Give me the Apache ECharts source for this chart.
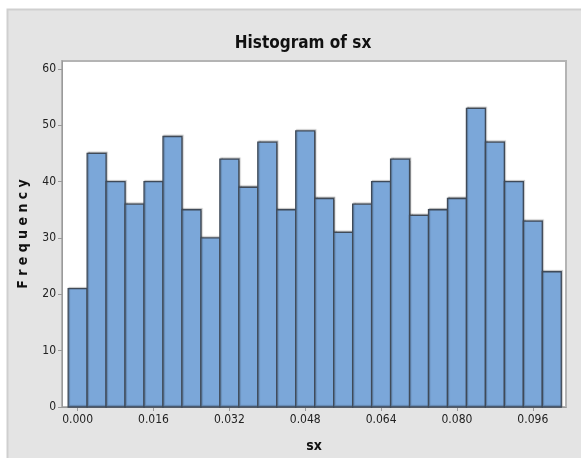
<!DOCTYPE html>
<html>
<head>
<meta charset="utf-8">
<script src="https://cdn.jsdelivr.net/npm/echarts@6/dist/echarts.min.js"></script>
<style>html,body{margin:0;padding:0;background:#fff;}#c{width:581px;height:458px;}</style>
</head>
<body>
<div id="c"></div>
<script>
var binCenters = [0.000,0.004,0.008,0.012,0.016,0.020,0.024,0.028,0.032,0.036,0.040,0.044,0.048,0.052,0.056,0.060,0.064,0.068,0.072,0.076,0.080,0.084,0.088,0.092,0.096,0.100];
var frequencies = [21,45,40,36,40,48,35,30,44,39,47,35,49,37,31,36,40,44,34,35,37,53,47,40,33,24];
var binWidth = 0.004;
var xTicks = [0.000,0.016,0.032,0.048,0.064,0.080,0.096];
var yTicks = [0,10,20,30,40,50,60];

var data = binCenters.map(function(c,i){return [c, frequencies[i]];});
var FONT = "'Liberation Sans Narrow','DejaVu Sans Condensed','Liberation Sans',sans-serif";
var chart = echarts.init(document.getElementById('c'), null, {renderer:'canvas'});
chart.setOption({
  animation:false,
  backgroundColor:'#ffffff',
  graphic:[{
    type:'rect', z:-10, silent:true,
    shape:{x:7.5,y:9.5,width:580,height:460},
    style:{fill:'#e4e4e4',stroke:'#cfcfcf',lineWidth:2}
  }],
  title:{
    text:'Histogram of sx', left:298, top:30, textAlign:'center',
    textStyle:{fontFamily:FONT,fontSize:17,fontWeight:'bold',color:'#111'}
  },
  grid:{left:62,top:61,right:15,bottom:51,show:true,backgroundColor:'#fff',borderColor:'#b4b4b4',borderWidth:2,containLabel:false},
  xAxis:{
    type:'value', min:-0.0033, max:0.1030,
    name:'sx', nameLocation:'middle', nameGap:32,
    nameTextStyle:{fontFamily:FONT,fontSize:14,fontWeight:'bold',color:'#111'},
    axisLine:{show:true,onZero:false,lineStyle:{color:'#9a9a9a',width:1}},
    axisTick:{show:true,length:4,lineStyle:{color:'#9a9a9a'},customValues:xTicks},
    axisLabel:{customValues:xTicks,margin:7,fontFamily:FONT,fontSize:12,color:'#222',
      formatter:function(v){return v.toFixed(3);}},
    splitLine:{show:false}
  },
  yAxis:{
    type:'value', min:0, max:61.4,
    name:'F r e q u e n c y', nameLocation:'middle', nameGap:32,
    nameTextStyle:{fontFamily:FONT,fontSize:14,fontWeight:'bold',color:'#111'},
    axisLine:{show:true,onZero:false,lineStyle:{color:'#9a9a9a',width:1}},
    axisTick:{show:true,length:4,lineStyle:{color:'#9a9a9a'},customValues:yTicks},
    axisLabel:{customValues:yTicks,margin:6,fontFamily:FONT,fontSize:12,color:'#222'},
    splitLine:{show:false}
  },
  series:[{
    type:'custom',
    data:data,
    encode:{x:0,y:1},
    renderItem:function(params,api){
      var c = api.value(0), f = api.value(1);
      var p1 = api.coord([c - binWidth/2, f]);
      var p2 = api.coord([c + binWidth/2, 0]);
      return {
        type:'rect',
        shape:{x:p1[0],y:p1[1],width:p2[0]-p1[0],height:p2[1]-p1[1]},
        style:{fill:'#7ba7d9',stroke:'#3f4a58',lineWidth:1.3,shadowColor:'rgba(0,0,0,0.25)',shadowOffsetX:1,shadowOffsetY:-1,shadowBlur:1}
      };
    }
  }]
});
</script>
</body>
</html>
